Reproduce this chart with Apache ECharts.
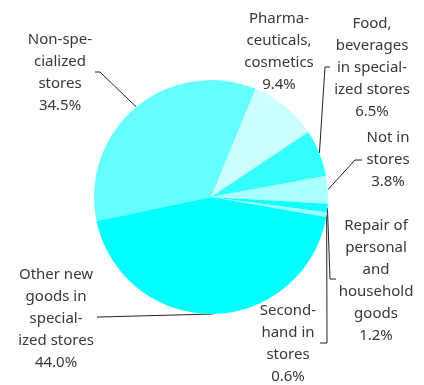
<!DOCTYPE html>
<html>
<head>
<meta charset="utf-8">
<script src="https://cdn.jsdelivr.net/npm/echarts@6/dist/echarts.min.js"></script>
<style>html,body{margin:0;padding:0;background:#fff;}#c{width:424px;height:385px;}</style>
</head>
<body>
<div id="c"></div>
<script>
// Data (clockwise order starting at the top-right)
const categories = [
  "Pharma-\nceuticals,\ncosmetics",
  "Food,\nbeverages\nin special-\nized stores",
  "Not in\nstores",
  "Repair of\npersonal\nand\nhousehold\ngoods",
  "Second-\nhand in\nstores",
  "Other new\ngoods in\nspecial-\nized stores",
  "Non-spe-\ncialized\nstores"
];
const values = [9.4, 6.5, 3.8, 1.2, 0.6, 44.0, 34.5];
const colors = ["#CCFFFF", "#33FFFF", "#AAFFFF", "#11FFFF", "#99FFFF", "#00FFFF", "#66FFFF"];

// Label placement (text block centre) and leader-line elbow/end points
const labelPos = [
  {x: 279, y: 52, line: null},
  {x: 372, y: 68, line: [[325, 67], [330, 67]]},
  {x: 388, y: 160, line: [[355, 160], [362, 160]]},
  {x: 376, y: 281, line: [[330, 279], [336, 279]]},
  {x: 288, y: 344, line: [[327, 343], [320, 343]]},
  {x: 56, y: 319, line: [[100, 317], [97, 317]]},
  {x: 60, y: 73, line: [[100, 72], [95, 72]]}
];

const chart = echarts.init(document.getElementById('c'), null, {renderer: 'canvas'});
chart.setOption({
  animation: false,
  series: [{
    type: 'pie',
    center: [211, 197],
    radius: [0, 117],
    startAngle: 67.6,
    clockwise: true,
    avoidLabelOverlap: false,
    data: categories.map((n, i) => ({
      name: n,
      value: values[i],
      itemStyle: {color: colors[i]},
      labelLine: {show: labelPos[i].line !== null}
    })),
    label: {
      show: true,
      position: 'outside',
      formatter: p => p.name + '\n' + p.value.toFixed(1) + '%',
      fontFamily: 'Noto Sans',
      fontSize: 15,
      lineHeight: 22,
      color: '#383838',
      align: 'center'
    },
    labelLine: {
      show: true,
      lineStyle: {color: '#222', width: 1}
    },
    labelLayout: function (params) {
      const lp = labelPos[params.dataIndex];
      const res = {x: lp.x, y: lp.y, align: 'center', verticalAlign: 'middle'};
      if (lp.line && params.labelLinePoints) {
        res.labelLinePoints = [params.labelLinePoints[0], lp.line[0], lp.line[1]];
      }
      return res;
    },
    emphasis: {disabled: true}
  }]
});
</script>
</body>
</html>
